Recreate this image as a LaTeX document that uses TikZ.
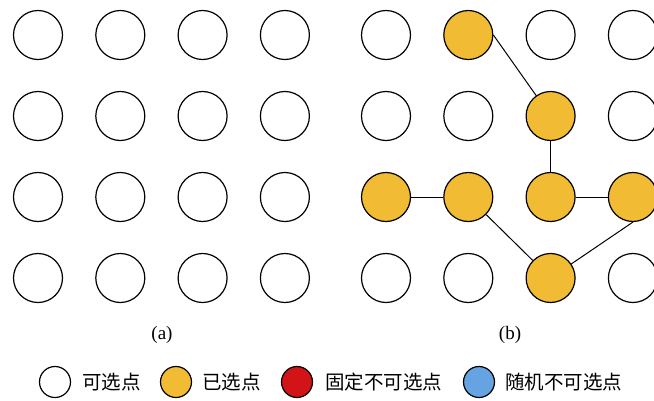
\documentclass[tikz,border=0pt]{standalone}
\usepackage{fontspec}
\setmainfont{Liberation Serif}
\newfontfamily\cjk{Noto Sans CJK SC}
\usepackage{xcolor}
\definecolor{chosen}{RGB}{241,187,52}
\definecolor{fixedred}{RGB}{210,20,25}
\definecolor{randblue}{RGB}{102,163,226}

\begin{document}
\begin{tikzpicture}[x=1pt,y=-1pt,
    pt/.style={circle,draw,line width=1.2pt,minimum size=49pt,inner sep=0pt,fill=white},
    sel/.style={pt,fill=chosen},
    key/.style={circle,draw,line width=1.2pt,minimum size=31pt,inner sep=0pt},
    keytext/.style={anchor=west,inner sep=0pt,font=\cjk\fontsize{19.5}{22}\selectfont}]
    \useasboundingbox (0,0) rectangle (654,400);
    % (a) all points free
    \foreach \c in {1,...,4}
      \foreach \r in {1,...,4}
        \node[pt] (a\c\r) at ({38+82.3*(\c-1)},{35+81*(\r-1)}) {};
    % (b) chosen path
    \foreach \c/\r/\s in {1/1/pt,2/1/sel,3/1/pt,4/1/pt,1/2/pt,2/2/pt,3/2/sel,4/2/pt,
                          1/3/sel,2/3/sel,3/3/sel,4/3/sel,1/4/pt,2/4/pt,3/4/sel,4/4/pt}
        \node[\s] (b\c\r) at ({386+82.3*(\c-1)},{35+81*(\r-1)}) {};
    \draw[line width=1pt] (b21.east) -- (b32);
    \draw[line width=1pt] (b32) -- (b33);
    \draw[line width=1pt] (b13) -- (b23);
    \draw[line width=1pt] (b33) -- (b43);
    \draw[line width=1pt] (b23) -- (b34);
    \draw[line width=1pt] (b34) -- (b43.south);
    \node[font=\fontsize{19}{22}\selectfont] (capa) at (162,335) {(a)};
    \node[font=\fontsize{19}{22}\selectfont] (capb) at (510,335) {(b)};
    % legend
    \node[key,fill=white] (k1) at (55,382) {};
    \node[keytext] (t1) at (82,382) {可选点};
    \node[key,fill=chosen] (k2) at (176,382) {};
    \node[keytext] (t2) at (202,382) {已选点};
    \node[key,fill=fixedred] (k3) at (297,382) {};
    \node[keytext] (t3) at (325,382) {固定不可选点};
    \node[key,fill=randblue] (k4) at (479,382) {};
    \node[keytext] (t4) at (505,382) {随机不可选点};
\end{tikzpicture}
\end{document}
